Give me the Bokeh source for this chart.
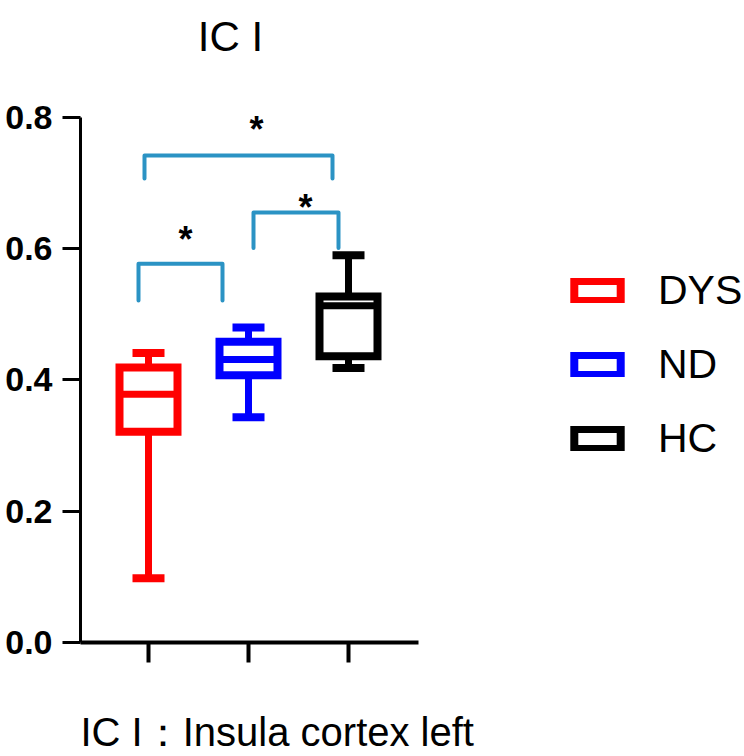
from bokeh.plotting import figure
from bokeh.models import (ColumnDataSource, FixedTicker, NumeralTickFormatter, Label,
                          Legend, LegendItem, Range1d, Title)
from bokeh.core.properties import value
from bokeh.embed import file_html
from bokeh.resources import INLINE

# ---- data ----
categories = ["DYS", "ND", "HC"]
cat_pos = [0, 1, 2]
colors = ["#FF0000", "#0000FF", "#000000"]
whisker_low = [0.098, 0.343, 0.418]
q1 = [0.321, 0.407, 0.436]
median = [0.378, 0.431, 0.513]
q3 = [0.419, 0.458, 0.527]
whisker_high = [0.441, 0.480, 0.590]

y_ticks = [0.0, 0.2, 0.4, 0.6, 0.8]

# significance brackets (DYS-ND, ND-HC, DYS-HC)
bracket_x0 = [-0.10, 1.05, -0.04]
bracket_x1 = [0.74, 1.90, 1.84]
bracket_top = [0.577, 0.655, 0.742]
bracket_foot = [0.521, 0.601, 0.707]
star_x = [0.37, 1.57, 1.08]
star_y = [0.620, 0.669, 0.787]
star_text = ["*", "*", "*"]

title_text = "IC I"
bottom_text = "IC I\uff1aInsula cortex left"

# ---- figure ----
W, H = 744, 756
p = figure(width=W, height=H, output_backend="svg", toolbar_location=None,
           x_range=Range1d(-0.68, 5.96), y_range=Range1d(0.0, 0.978),
           min_border_left=80, min_border_right=0, min_border_top=0,
           min_border_bottom=114)
p.outline_line_color = None
p.xgrid.visible = False
p.ygrid.visible = False
p.background_fill_color = "white"
p.border_fill_color = "white"

half = 0.29
cap = 0.16
src = ColumnDataSource(dict(
    x=cat_pos, cat=categories, color=colors,
    left=[c - half for c in cat_pos], right=[c + half for c in cat_pos],
    capl=[c - cap for c in cat_pos], capr=[c + cap for c in cat_pos],
    lo=whisker_low, q1=q1, med=median, q3=q3, hi=whisker_high,
))

# whiskers
p.segment(x0="x", x1="x", y0="lo", y1="q1", line_color="color", line_width=7, source=src)
p.segment(x0="x", x1="x", y0="q3", y1="hi", line_color="color", line_width=7, source=src)
p.segment(x0="capl", x1="capr", y0="lo", y1="lo", line_color="color", line_width=8, source=src)
p.segment(x0="capl", x1="capr", y0="hi", y1="hi", line_color="color", line_width=8, source=src)

# boxes
box_renderers = []
for i, c in enumerate(categories):
    r = p.quad(left=[cat_pos[i] - half], right=[cat_pos[i] + half], bottom=[q1[i]], top=[q3[i]],
               fill_color="white", line_color=colors[i], line_width=8, line_join="miter")
    box_renderers.append(r)
# medians
p.segment(x0="left", x1="right", y0="med", y1="med", line_color="color", line_width=7, source=src)

# brackets
bxs, bys = [], []
for i in range(len(bracket_x0)):
    bxs.append([bracket_x0[i], bracket_x0[i], bracket_x1[i], bracket_x1[i]])
    bys.append([bracket_foot[i], bracket_top[i], bracket_top[i], bracket_foot[i]])
p.multi_line(xs=bxs, ys=bys, line_color="#2B93C4", line_width=4,
             line_join="round", line_cap="round")

p.text(x=star_x, y=star_y, text=star_text, text_align="center", text_baseline="middle",
       text_font=value("Liberation Sans"), text_font_size="36px", text_font_style="bold",
       text_color="black", y_offset=4)

# ---- axes ----
xa = p.xaxis[0]
xa.ticker = FixedTicker(ticks=cat_pos)
xa.major_label_text_font_size = "0px"
xa.major_label_text_alpha = 0
xa.major_label_standoff = 0
xa.bounds = (-0.68, 2.70)
xa.axis_line_width = 4
xa.axis_line_color = "black"
xa.major_tick_line_width = 4
xa.major_tick_in = 0
xa.major_tick_out = 20
xa.minor_tick_line_color = None
# blank axis label only reserves vertical space under the ticks
xa.axis_label = " "
xa.axis_label_standoff = 31
xa.axis_label_text_font_size = "10px"

ya = p.yaxis[0]
ya.ticker = FixedTicker(ticks=y_ticks)
ya.formatter = NumeralTickFormatter(format="0.0")
ya.bounds = (0.0, 0.8)
ya.axis_line_width = 3
ya.axis_line_color = "black"
ya.major_tick_line_width = 3
ya.major_tick_in = 0
ya.major_tick_out = 18
ya.minor_tick_line_color = None
ya.major_label_standoff = 10
ya.major_label_text_font = "Liberation Sans"
ya.major_label_text_font_style = "bold"
ya.major_label_text_font_size = "34px"
ya.major_label_text_color = "black"

# ---- texts ----
p.add_layout(Label(x=0.82, y=0.923, text=title_text, text_align="center",
                   text_baseline="alphabetic", text_font="Liberation Sans",
                   text_font_size="42px", text_color="black"))
p.add_layout(Title(text=bottom_text, align="left", offset=0, standoff=0,
                   text_font="Liberation Sans", text_font_size="40px",
                   text_font_style="normal", text_color="black"), "below")

# ---- legend ----
legend = Legend(items=[LegendItem(label=categories[i], renderers=[box_renderers[i]])
                       for i in range(3)],
                location=(488, 180), orientation="vertical",
                glyph_width=58, glyph_height=25, label_standoff=32, spacing=27,
                padding=0, margin=0, border_line_color=None, background_fill_alpha=0,
                label_text_font="Liberation Sans", label_text_font_size="41px",
                label_text_color="black")
p.add_layout(legend, "center")

open("out.html", "w").write(file_html(p, INLINE))
